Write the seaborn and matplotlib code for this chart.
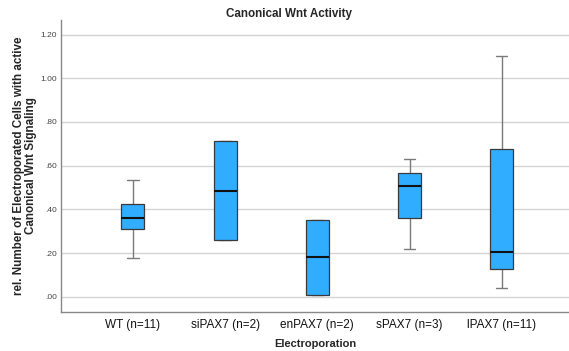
import numpy as np
import pandas as pd
import matplotlib
matplotlib.use("Agg")
import matplotlib.pyplot as plt
import seaborn as sns

# Categories (x tick labels)
groups = ["WT (n=11)", "siPAX7 (n=2)", "enPAX7 (n=2)", "sPAX7 (n=3)", "lPAX7 (n=11)"]
# Five-number summaries
whisker_low = [0.179, 0.261, 0.006, 0.218, 0.038]
q1 = [0.310, 0.261, 0.006, 0.359, 0.128]
median = [0.360, 0.485, 0.180, 0.505, 0.206]
q3 = [0.423, 0.713, 0.351, 0.566, 0.676]
whisker_high = [0.533, 0.713, 0.351, 0.632, 1.100]

yticks = [0.0, 0.2, 0.4, 0.6, 0.8, 1.0, 1.2]
ytick_labels = [".00", ".20", ".40", ".60", ".80", "1.00", "1.20"]

rows = []
for g, a, b, c, d, e in zip(groups, whisker_low, q1, median, q3, whisker_high):
    for v in (a, b, c, d, e):
        rows.append({"Electroporation": g, "value": v})
df = pd.DataFrame(rows)

sns.set_theme(style="white")
plt.rcParams["font.family"] = ["Liberation Sans", "DejaVu Sans"]

fig = plt.figure(figsize=(5.69, 3.51), dpi=100)
ax = fig.add_axes([61 / 569, 1 - 312 / 351, 508 / 569, (312 - 20) / 351])

for t in yticks:
    ax.axhline(t, color="#d4d4d4", lw=1.0, zorder=0)

sns.boxplot(
    data=df, x="Electroporation", y="value", order=groups, ax=ax,
    width=0.25, whis=np.inf, color="#30ADFF", saturation=1,
    linecolor="#3a3a3a", linewidth=0.9,
    boxprops=dict(facecolor="#30ADFF", edgecolor="#3a3a3a", zorder=3),
    whiskerprops=dict(color="#7a7a7a", lw=1.0, zorder=2),
    capprops=dict(color="#7a7a7a", lw=1.0, zorder=2),
    medianprops=dict(color="#111111", lw=1.5, zorder=4),
)

ax.set_xlim(-0.78, 4.73)
ax.set_ylim(-0.07, 1.267)
ax.set_yticks(yticks)
ax.set_yticklabels(ytick_labels, fontsize=6, color="#444444")
ax.tick_params(axis="x", labelsize=8.5, colors="#111111", length=0, pad=5)
ax.tick_params(axis="y", length=0, pad=3)

for s in ["top", "right"]:
    ax.spines[s].set_visible(False)
for s in ["left", "bottom"]:
    ax.spines[s].set_color("#888888")
    ax.spines[s].set_linewidth(1.0)

ax.set_xlabel("Electroporation", fontsize=8, fontweight="bold", labelpad=6)
ax.set_ylabel("rel. Number of Electroporated Cells with active\nCanonical Wnt Signaling",
              fontsize=8.4, fontweight="bold", linespacing=0.95)
ax.yaxis.set_label_coords((37 - 61) / 508, 0.5)
fig.text(289 / 569, 1 - 14 / 351, "Canonical Wnt Activity", ha="center", va="center",
         fontsize=8.4, fontweight="bold")

fig.savefig("out.png", dpi=100)
